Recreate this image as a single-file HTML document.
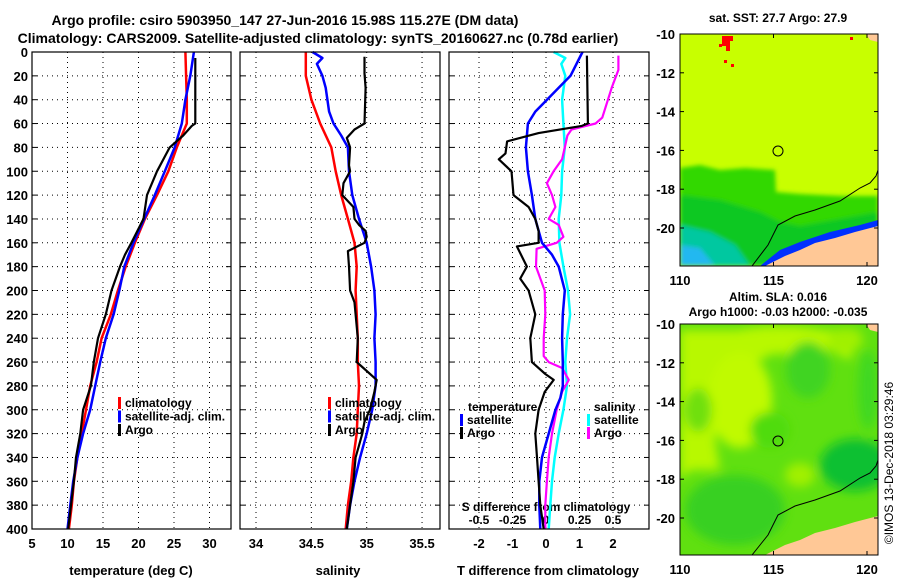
<!DOCTYPE html>
<html><head><meta charset="utf-8">
<style>
body{margin:0;background:#fff;}
svg{display:block;font-family:"Liberation Sans",Arial,sans-serif;font-weight:bold;}
</style></head>
<body>
<svg id="c" width="900" height="580" viewBox="0 0 900 580">
<text x="285" y="25" font-size="14" text-anchor="middle">Argo profile: csiro 5903950_147 27-Jun-2016 15.98S 115.27E (DM data)</text>
<text x="318" y="43" font-size="14" text-anchor="middle">Climatology: CARS2009. Satellite-adjusted climatology: synTS_20160627.nc (0.78d earlier)</text>
<g id="plots"></g>
<g id="maps">
<defs>
<clipPath id="m1c"><rect x="680" y="34" width="198" height="232"/></clipPath>
<clipPath id="m2c"><rect x="680" y="324" width="198" height="231"/></clipPath>
<filter id="bl"><feGaussianBlur stdDeviation="5"/></filter>
<filter id="bl2"><feGaussianBlur stdDeviation="2"/></filter>
</defs>
<text x="778" y="22" font-size="12" text-anchor="middle">sat. SST: 27.7 Argo: 27.9</text>
<g clip-path="url(#m1c)">
<rect x="680" y="34" width="198" height="232" fill="#c8ff00"/>
<g filter="url(#bl2)">
<polygon points="680,168 700,165 720,170 745,168 775,170 776,192 800,194 840,196 878,196 878,266 680,266" fill="#30d800"/>
<polygon points="680,195 720,200 760,212 780,222 800,226 878,212 878,266 680,266" fill="#10c820"/>
<polygon points="680,225 710,232 735,245 750,266 680,266" fill="#00c8a0"/>
<polygon points="680,245 700,248 715,266 680,266" fill="#20b8f0"/>
</g>
<polygon points="760,266 780,250 800,242 830,232 860,225 878,220 878,232 830,242 800,252 780,266" fill="#0030ff"/>
<polygon points="765,266 785,256 800,250 815,243 835,238 855,232 878,226 878,266" fill="#ffc896"/>
<polygon points="866,34 878,34 878,42 870,40" fill="#ffc896"/>
<rect x="722" y="36" width="8" height="10" fill="#ff0000"/><rect x="726" y="46" width="4" height="5" fill="#ff0000"/><rect x="719" y="44" width="3" height="3" fill="#ff0000"/><rect x="730" y="36" width="3" height="5" fill="#ff0000"/><rect x="724" y="60" width="3" height="3" fill="#ff0000"/><rect x="731" y="64" width="3" height="3" fill="#ff0000"/><rect x="850" y="37" width="3" height="3" fill="#ff0000"/>
<polyline points="752,266 768,245 778,225 795,216 815,210 840,201 860,188 870,183 876,176 878,170" fill="none" stroke="#000" stroke-width="1"/>
<circle cx="778" cy="151" r="5" fill="none" stroke="#000" stroke-width="1"/>
</g>
<rect x="680" y="34" width="198" height="232" fill="none" stroke="#000" stroke-width="1"/>
<text x="778" y="301" font-size="12" text-anchor="middle">Altim. SLA: 0.016</text>
<text x="778" y="316" font-size="12" text-anchor="middle">Argo h1000: -0.03 h2000: -0.035</text>
<g clip-path="url(#m2c)">
<rect x="680" y="324" width="198" height="231" fill="#60e010"/>
<g filter="url(#bl)">
<polygon points="680,330 860,330 850,360 830,350 790,345 760,360 740,390 720,400 715,440 720,470 690,470 680,480" fill="#b8f800"/>
<ellipse cx="740" cy="400" rx="32" ry="48" fill="#c0fa00"/>
<ellipse cx="780" cy="340" rx="60" ry="14" fill="#b8f800"/>
<ellipse cx="698" cy="410" rx="14" ry="22" fill="#70e010"/>
<ellipse cx="808" cy="370" rx="22" ry="28" fill="#40d420"/>
<ellipse cx="845" cy="340" rx="18" ry="12" fill="#a0f000"/>
<ellipse cx="868" cy="390" rx="10" ry="40" fill="#40d820"/>
<ellipse cx="855" cy="465" rx="35" ry="26" fill="#10c030"/>
<ellipse cx="735" cy="510" rx="50" ry="35" fill="#38d020"/>
<ellipse cx="800" cy="475" rx="15" ry="12" fill="#a0f000"/>
<ellipse cx="770" cy="430" rx="20" ry="18" fill="#50dc10"/>
</g>
<polygon points="765,555 785,545 800,540 815,533 835,528 855,522 878,516 878,555" fill="#ffc896"/>
<polygon points="866,324 878,324 878,332 870,330" fill="#ffc896"/>
<polyline points="752,555 768,535 778,515 795,506 815,500 840,491 860,478 870,473 876,466 878,460" fill="none" stroke="#000" stroke-width="1"/>
<circle cx="778" cy="441" r="5" fill="none" stroke="#000" stroke-width="1"/>
</g>
<rect x="680" y="324" width="198" height="231" fill="none" stroke="#000" stroke-width="1"/>
<g id="mapaxes"></g>
<text transform="translate(893,463) rotate(-90)" font-size="12" font-weight="normal" text-anchor="middle">©IMOS 13-Dec-2018 03:29:46</text>
</g>
</svg>
<script>
// ---- data ----
const depthTicks=[0,20,40,60,80,100,120,140,160,180,200,220,240,260,280,300,320,340,360,380,400];
const tempTicks=[5,10,15,20,25,30];
const salTicks=[34,34.5,35,35.5];
const dtTicks=[-2,-1,0,1,2];
const dsTicks=[-0.5,-0.25,0,0.25,0.5];
const dsTickLabels=["-0.5","-0.25","0","0.25","0.5"];
const latTicks=[-10,-12,-14,-16,-18,-20];
const lonTicks=[110,115,120];
const stdDepth=[0,20,40,60,80,100,120,140,160,180,200,220,240,260,280,300,320,340,360,380,400];
const tempClim=[26.6,26.7,26.8,26.8,25.4,24.2,22.6,20.9,19.5,18.2,17.1,16.1,14.8,14.1,13.2,12.6,12.0,11.4,10.9,10.6,10.2];
const tempSat=[27.8,27.3,26.6,26.1,25.1,23.7,22.3,20.8,19.3,18.0,17.3,16.5,15.4,14.6,13.9,13.2,12.2,11.4,10.8,10.4,10.0];
const argoTDepth=[5,60,62,70,80,100,120,140,160,170,180,200,220,240,260,280,300,320,340,360,380,400];
const argoTemp=[28.0,28.0,27.5,26.3,24.4,22.6,21.2,20.7,19.0,18.1,17.4,16.2,15.4,14.3,13.7,13.3,12.2,11.8,11.2,10.9,10.5,10.1];
const salClim=[34.45,34.45,34.50,34.58,34.68,34.72,34.77,34.83,34.89,34.91,34.90,34.91,34.92,34.92,34.93,34.92,34.91,34.88,34.86,34.83,34.81];
const salSatDepth=[0,5,10,20,30,50,60,70,80,100,120,140,160,180,200,220,240,260,280,300,320,340,360,380,400];
const salSat=[34.51,34.60,34.55,34.60,34.63,34.66,34.70,34.77,34.83,34.84,34.87,34.93,35.0,35.04,35.07,35.08,35.07,35.08,35.08,35.05,35.0,34.94,34.89,34.85,34.82];
const argoSDepth=[4,18,30,60,65,72,80,95,100,110,120,125,130,140,145,150,155,160,167,180,200,210,220,240,260,265,275,285,300,310,320,330,340,360,380,400];
const argoSal=[34.98,34.98,34.99,34.98,34.89,34.82,34.85,34.84,34.85,34.79,34.78,34.83,34.88,34.89,34.93,34.99,35.0,34.98,34.83,34.84,34.85,34.89,34.90,34.92,34.91,34.97,35.09,35.07,35.03,34.98,34.96,34.93,34.90,34.88,34.85,34.82];
const dTSatDepth=[0,20,30,40,50,60,80,100,120,140,160,170,180,200,220,240,260,280,290,300,320,340,360,380,400];
const dTSat=[1.09,0.73,0.38,0.03,-0.32,-0.54,-0.60,-0.54,-0.42,-0.32,-0.12,0.18,0.38,0.56,0.50,0.48,0.50,0.50,0.43,0.28,0.08,-0.12,-0.20,-0.20,-0.17];
const dTArgoDepth=[3,60,62,68,75,85,90,100,110,120,130,140,150,160,163,180,190,200,220,240,260,270,275,285,300,320,340,360,380,400];
const dTArgo=[1.22,1.25,1.07,-0.22,-1.16,-1.21,-1.41,-1.03,-1.0,-0.97,-0.52,-0.32,-0.22,-0.22,-0.87,-0.57,-0.77,-0.52,-0.32,-0.47,-0.42,-0.02,0.23,-0.04,-0.22,-0.32,-0.27,-0.22,-0.17,-0.07];
const dSSatDepth=[0,5,10,20,40,60,80,100,120,140,160,180,200,220,240,260,280,300,320,340,360,380,400];
const dSSat=[0.057,0.144,0.114,0.144,0.12,0.13,0.14,0.12,0.114,0.095,0.10,0.13,0.164,0.18,0.157,0.144,0.157,0.13,0.095,0.065,0.045,0.032,0.02];
const dSArgoDepth=[3,15,30,55,60,65,70,80,90,100,110,120,130,140,145,155,160,165,180,200,220,240,255,260,265,275,285,300,320,340,360,380,400];
const dSArgo=[0.54,0.54,0.49,0.42,0.37,0.19,0.16,0.14,0.12,0.057,0.007,0.045,0.07,0.02,0.095,0.13,0.08,-0.07,-0.075,-0.01,-0.005,-0.017,-0.017,0.02,0.12,0.17,0.12,0.08,0.045,0.02,0.007,-0.005,-0.005];

// ---- axes ----
const Y0=52,Y1=529;
const yD=d=>Y0+(d/400)*(Y1-Y0);
const xT=t=>32+(t-5)*7.1;
const xS=s=>256+(s-34)*110.7;
const xDT=t=>546+t*33.5;
const xDS=s=>546+s*134;
const xLon=l=>680+(l-110)*18.7;
const NS="http://www.w3.org/2000/svg";
const root=document.getElementById('plots');
function el(tag,attrs,parent){const e=document.createElementNS(NS,tag);for(const k in attrs)e.setAttribute(k,attrs[k]);(parent||root).appendChild(e);return e;}
function txt(x,y,s,anchor,size,parent){const t=el('text',{x:x,y:y,'font-size':size||12,'text-anchor':anchor||'middle'},parent);t.textContent=s;return t;}

// map axes
const ma=document.getElementById('mapaxes');
[{top:34,bot:266},{top:324,bot:555}].forEach(m=>{
  const yLat=l=>m.top+(-10-l)*19.4;
  latTicks.forEach(l=>{
    el('line',{x1:680,x2:684,y1:yLat(l),y2:yLat(l),stroke:'#000'},ma);
    el('line',{x1:874,x2:878,y1:yLat(l),y2:yLat(l),stroke:'#000'},ma);
    const lb=txt(675,yLat(l)+5,String(l),'end',13,ma);
    
    
  });
  lonTicks.forEach(l=>{
    el('line',{x1:xLon(l),x2:xLon(l),y1:m.bot,y2:m.bot-4,stroke:'#000'},ma);
    el('line',{x1:xLon(l),x2:xLon(l),y1:m.top,y2:m.top+4,stroke:'#000'},ma);
    const lb=txt(xLon(l),m.bot+19,String(l),'middle',13,ma);
    
    
  });
});

const panels=[{x0:32,x1:231,name:'temperature-panel'},{x0:240,x1:440,name:'salinity-panel'},{x0:449,x1:649,name:'difference-panel'}];
const gs=[];
panels.forEach((p,i)=>{
  const g=el('g',{});
  
  
  gs.push(g);
  depthTicks.forEach(d=>{
    if(d>0&&d<400) el('line',{x1:p.x0,x2:p.x1,y1:yD(d),y2:yD(d),stroke:'#000','stroke-width':1,'stroke-dasharray':'1,4'},g);
    el('line',{x1:p.x0,x2:p.x0+5,y1:yD(d),y2:yD(d),stroke:'#000'},g);
    el('line',{x1:p.x1-5,x2:p.x1,y1:yD(d),y2:yD(d),stroke:'#000'},g);
  });
});
tempTicks.forEach(t=>{const x=xT(t);
  if(t>5) el('line',{x1:x,x2:x,y1:Y0,y2:Y1,stroke:'#000','stroke-dasharray':'1,4'},gs[0]);
  const l=txt(x,548,String(t),'middle',13,gs[0]);
  
  
});
depthTicks.forEach(d=>{const l=txt(28,yD(d)+5,String(d),'end',13,gs[0]);
  
  });
salTicks.forEach(s=>{const x=xS(s);
  el('line',{x1:x,x2:x,y1:Y0,y2:Y1,stroke:'#000','stroke-dasharray':'1,4'},gs[1]);
  const l=txt(x,548,String(s),'middle',13,gs[1]);
  
  });
dtTicks.forEach(t=>{const x=xDT(t);
  el('line',{x1:x,x2:x,y1:Y0,y2:Y1,stroke:'#000','stroke-dasharray':'1,4'},gs[2]);
  const l=txt(x,548,String(t),'middle',13,gs[2]);
  
  });
dsTicks.forEach((s,i)=>{const l=txt(xDS(s),524,dsTickLabels[i],'middle',12,gs[2]);
  
  });
let t;
t=txt(131,575,'temperature (deg C)','middle',13,gs[0]);
t=txt(338,575,'salinity','middle',13,gs[1]);
t=txt(548,575,'T difference from climatology','middle',13,gs[2]);
t=txt(546,511,'S difference from climatology','middle',12,gs[2]);

function line(g,xs,ds,xf,color,w,name){
  const pts=xs.map((v,i)=>xf(v).toFixed(1)+','+yD(ds[i]).toFixed(1)).join(' ');
  const p=el('polyline',{points:pts,fill:'none',stroke:color,'stroke-width':w,'stroke-linejoin':'round'},g);
  
  
}
line(gs[0],tempClim,stdDepth,xT,'#ff0000',2.5,'temperature-climatology-line');
line(gs[0],tempSat,stdDepth,xT,'#0000ff',2.5,'temperature-satellite-line');
line(gs[0],argoTemp,argoTDepth,xT,'#000',2.2,'temperature-argo-line');
line(gs[1],salClim,stdDepth,xS,'#ff0000',2.5,'salinity-climatology-line');
line(gs[1],salSat,salSatDepth,xS,'#0000ff',2.5,'salinity-satellite-line');
line(gs[1],argoSal,argoSDepth,xS,'#000',2.2,'salinity-argo-line');
line(gs[2],dSSat,dSSatDepth,xDS,'#00ffff',2.5,'s-difference-satellite-line');
line(gs[2],dSArgo,dSArgoDepth,xDS,'#ff00ff',2.2,'s-difference-argo-line');
line(gs[2],dTSat,dTSatDepth,xDT,'#0000ff',2.5,'t-difference-satellite-line');
line(gs[2],dTArgo,dTArgoDepth,xDT,'#000',2.2,'t-difference-argo-line');

function legend(g,x,y,color,label){
  const lg=el('g',{},g);
  
  
  el('rect',{x:x,y:y-10,width:3,height:12,fill:color},lg);
  txt(x+7,y,label,'start',12,lg);
}
[[118,'#ff0000','climatology',0],[118,'#0000ff','satellite-adj. clim.',1],[118,'#000','Argo',2]].forEach(a=>legend(gs[0],a[0],407+a[3]*13.5,a[1],a[2]));
[[328,'#ff0000','climatology',0],[328,'#0000ff','satellite-adj. clim.',1],[328,'#000','Argo',2]].forEach(a=>legend(gs[1],a[0],407+a[3]*13.5,a[1],a[2]));
t=txt(468,411,'temperature','start',12,gs[2]);
t=txt(594,411,'salinity','start',12,gs[2]);
legend(gs[2],460,424,'#0000ff','satellite');
legend(gs[2],460,437,'#000','Argo');
legend(gs[2],587,424,'#00ffff','satellite');
legend(gs[2],587,437,'#ff00ff','Argo');

panels.forEach((p,i)=>{el('rect',{x:p.x0,y:Y0,width:p.x1-p.x0,height:Y1-Y0,fill:'none',stroke:'#000','stroke-width':1.2},gs[i]);});
</script>
</body></html>
